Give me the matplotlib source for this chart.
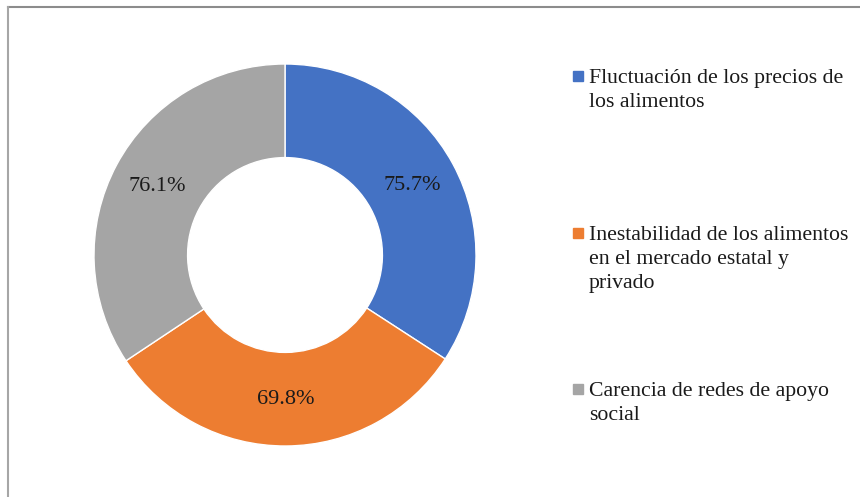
import numpy as np
import matplotlib.pyplot as plt
from matplotlib.patches import Rectangle
from matplotlib.lines import Line2D

plt.rcParams['font.family'] = ['Liberation Serif', 'DejaVu Serif']

categories = ["Fluctuación de los precios de\nlos alimentos",
              "Inestabilidad de los alimentos\nen el mercado estatal y\nprivado",
              "Carencia de redes de apoyo\nsocial"]
values = [75.7, 69.8, 76.1]
labels = ["75.7%", "69.8%", "76.1%"]
colors = ["#4472C4", "#ED7D31", "#A5A5A5"]

W, H = 860, 497
fig = plt.figure(figsize=(W / 100, H / 100), dpi=100)

# donut centred at (285, 255) px, outer radius ~191 px
cx, cy, half = 285, 255, 200
ax = fig.add_axes([(cx - half) / W, (H - cy - half) / H, 2 * half / W, 2 * half / H])
wedges, _ = ax.pie(values, colors=colors, startangle=90, counterclock=False,
                   radius=1.0, wedgeprops=dict(width=0.49, edgecolor="white", linewidth=1))
lim = half / 191
ax.set_xlim(-lim, lim)
ax.set_ylim(-lim, lim)
ax.set_aspect("equal")
ax.axis("off")

# value labels in the middle of each ring segment
for w, lab in zip(wedges, labels):
    ang = np.deg2rad((w.theta1 + w.theta2) / 2)
    ax.text(0.757 * np.cos(ang), 0.757 * np.sin(ang), lab,
            ha="center", va="center", fontsize=16, color="#1a1a1a")

# legend
tops = [69, 226, 382]
for y, txt, c in zip(tops, categories, colors):
    fig.add_artist(Rectangle((573 / W, 1 - (y + 12) / H), 10 / W, 10 / H,
                             transform=fig.transFigure, color=c))
    fig.text(589 / W, 1 - y / H, txt, ha="left", va="top", fontsize=15.7,
             color="#1a1a1a", linespacing=1.35)

# chart border (only top and left are visible)
fig.add_artist(Line2D([8 / W, 1], [1 - 7 / H, 1 - 7 / H], transform=fig.transFigure,
                      color="#8c8c8c", linewidth=1.5))
fig.add_artist(Line2D([8 / W, 8 / W], [0, 1 - 7 / H], transform=fig.transFigure,
                      color="#a6a6a6", linewidth=1.5))

fig.savefig("out.png", dpi=100)
